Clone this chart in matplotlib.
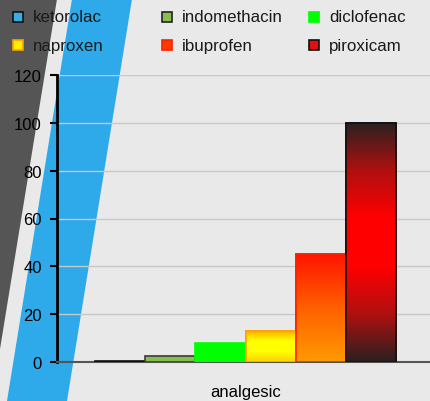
import numpy as np
import matplotlib
matplotlib.use("Agg")
import matplotlib.pyplot as plt
from matplotlib.patches import Polygon, Rectangle
from matplotlib.colors import LinearSegmentedColormap

plt.rcParams['font.family'] = ['Liberation Sans', 'DejaVu Sans']

# ---- data ----
drugs = ["ketorolac", "indomethacin", "diclofenac", "naproxen", "ibuprofen", "piroxicam"]
values = [0.4, 2.5, 8.0, 13.0, 45.0, 100.0]
category = "analgesic"
yticks = [0, 20, 40, 60, 80, 100, 120]

# ---- styles ----
face = ["#35aee8", "#86bf4f", "#00ff00", "#ffff00", "#ff5a00", "#ff0000"]
edge = ["#111111", "#3a3a3a", "#00ff00", "#ffa000", "#ff2000", "#111111"]
grads = {
    3: ["#ffa800", "#ffff00", "#ffff00", "#ffd000"],
    4: ["#ff1400", "#ff6000", "#ff9a00"],
    5: ["#2a2020", "#b01010", "#ff0000", "#ff0000", "#b01010", "#2a2020"],
}

W, H = 431, 402
fig = plt.figure(figsize=(W / 100, H / 100), dpi=100)
fig.patch.set_facecolor("#e9e9e9")

def fx(x):
    return x / W

def fy(y):
    return 1 - y / H

dark = Polygon([(fx(0), fy(0)), (fx(57), fy(0)), (fx(0), fy(350))],
               closed=True, transform=fig.transFigure, facecolor="#555555", edgecolor="none", zorder=-2)
blue = Polygon([(fx(72), fy(0)), (fx(132), fy(0)), (fx(67), fy(402)), (fx(7), fy(402))],
               closed=True, transform=fig.transFigure, facecolor="#2eaaea", edgecolor="none", zorder=-2)
fig.patches.extend([dark, blue])

ax = fig.add_axes([57 / W, 1 - 363 / H, 1 - 57 / W, (363 - 76) / H])
ax.set_facecolor("none")
ax.set_zorder(1)

n = len(drugs)
offsets = np.arange(n) - (n - 1) / 2
bars = ax.bar(offsets, values, width=1.0, color=face, edgecolor=edge, linewidth=1.2, zorder=3)

for i, cols in grads.items():
    b = bars[i]
    cmap = LinearSegmentedColormap.from_list(f"g{i}", cols)
    img = ax.imshow(np.linspace(0, 1, 256).reshape(-1, 1), cmap=cmap, aspect="auto",
                    extent=(b.get_x(), b.get_x() + b.get_width(), 0, b.get_height()),
                    zorder=3.5, interpolation="bilinear")
    img.set_clip_path(b)
    b2 = Rectangle((b.get_x(), 0), b.get_width(), b.get_height(), facecolor="none",
                   edgecolor=edge[i], linewidth=1.2, zorder=4)
    ax.add_patch(b2)

ax.set_xlim(-3.755, 3.695)
ax.set_ylim(0, 120)
ax.set_yticks(yticks)
ax.set_yticklabels([str(t) for t in yticks], fontsize=12)
ax.set_xticks([0])
ax.set_xticklabels([category], fontsize=12)
ax.tick_params(axis="x", length=0, pad=16)
ax.tick_params(axis="y", length=5, width=1.5, direction="out", pad=6, colors="black")
ax.yaxis.grid(True, color="#c8c8c8", linewidth=1.0, zorder=1)
ax.set_axisbelow(True)
for s in ["top", "right"]:
    ax.spines[s].set_visible(False)
ax.spines["left"].set_linewidth(2)
ax.spines["left"].set_color("black")
ax.spines["bottom"].set_linewidth(1.5)
ax.spines["bottom"].set_color("#555555")

# legend (manual, 3 columns x 2 rows)
col_x = [18.5, 167.5, 314.5]
row_y = [17.5, 46]
leg_face = ["#35aee8", "#86bf4f", "#00ff00", "#ffee00", "#ff3a00", "#e01010"]
leg_edge = ["#111111", "#222222", "#00ff00", "#ffa000", "#ff2000", "#111111"]
for k, name in enumerate(drugs):
    r, c = divmod(k, 3)
    cx, cy = col_x[c], row_y[r]
    fig.patches.append(Rectangle((fx(cx - 5), fy(cy + 5)), 10 / W, 10 / H, transform=fig.transFigure,
                                 facecolor=leg_face[k], edgecolor=leg_edge[k], linewidth=1.2, zorder=5))
    fig.text(fx(cx + 14.5), fy(cy), name, fontsize=12.2, va="center", ha="left", color="#1a1a1a")

fig.savefig("out.png", dpi=100, facecolor=fig.get_facecolor())
